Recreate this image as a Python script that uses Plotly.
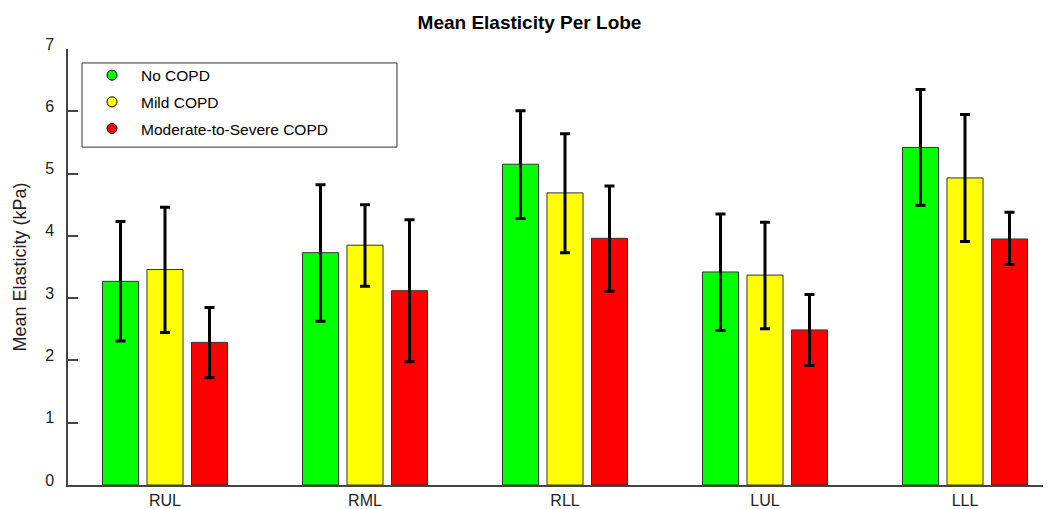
import plotly.graph_objects as go

lobes = ["RUL", "RML", "RLL", "LUL", "LLL"]
series_names = ["No COPD", "Mild COPD", "Moderate-to-Severe COPD"]
no_copd = [3.27, 3.73, 5.15, 3.42, 5.42]
no_copd_lo = [2.31, 2.63, 4.28, 2.48, 4.49]
no_copd_hi = [4.23, 4.82, 6.01, 4.35, 6.35]
mild_copd = [3.46, 3.85, 4.69, 3.37, 4.93]
mild_copd_lo = [2.45, 3.19, 3.73, 2.51, 3.91]
mild_copd_hi = [4.46, 4.50, 5.64, 4.22, 5.95]
severe_copd = [2.29, 3.12, 3.96, 2.49, 3.95]
severe_copd_lo = [1.72, 1.98, 3.11, 1.92, 3.54]
severe_copd_hi = [2.85, 4.26, 4.80, 3.06, 4.38]
colors = ["#00ff00", "#ffff00", "#ff0000"]

FONT = "Liberation Sans, Arial, sans-serif"
fig = go.Figure()
groups = [
    (no_copd, no_copd_lo, no_copd_hi),
    (mild_copd, mild_copd_lo, mild_copd_hi),
    (severe_copd, severe_copd_lo, severe_copd_hi),
]
for name, col, (vals, lo, hi) in zip(series_names, colors, groups):
    fig.add_trace(go.Bar(
        x=lobes, y=vals, name=name, showlegend=False,
        marker=dict(color=col, line=dict(color="#333333", width=1)),
        error_y=dict(type="data", symmetric=False,
                     array=[h - v for h, v in zip(hi, vals)],
                     arrayminus=[v - l for l, v in zip(lo, vals)],
                     color="black", thickness=3, width=5),
    ))
for i, (name, col) in enumerate(zip(series_names, colors)):
    fig.add_trace(go.Scatter(
        x=[None], y=[None], mode="markers", name=name,
        legendgroup="g%d" % i,
        marker=dict(symbol="circle", size=10, color=col,
                    line=dict(color="black", width=1)),
    ))

# legend frame (wider than plotly's auto-sized legend box)
fig.add_shape(type="rect", xref="paper", yref="paper",
              x0=0.0143, x1=0.3357, y0=0.775, y1=0.968,
              line=dict(color="#333333", width=1), fillcolor="white", layer="above")

fig.update_layout(
    width=1043, height=501,
    paper_bgcolor="white", plot_bgcolor="white",
    margin=dict(l=60, r=3, t=41, b=24),
    barmode="group", bargap=0.3325, bargroupgap=0.19,
    title=dict(text="<b>Mean Elasticity Per Lobe</b>", x=0.5, xanchor="center",
               y=0.972, yanchor="middle",
               font=dict(family=FONT, size=19, color="black")),
    font=dict(family=FONT, color="#222222"),
    showlegend=True,
    legend=dict(x=0.0153, y=0.978, xanchor="left", yanchor="top",
                bgcolor="rgba(0,0,0,0)", borderwidth=0,
                font=dict(family=FONT, size=15.5, color="black"),
                tracegroupgap=3.5, itemwidth=48),
    xaxis=dict(range=[-0.485, 4.415], showline=True, linecolor="#444444", linewidth=1.5,
               ticks="", showgrid=False, zeroline=False, ticklabelstandoff=0,
               tickfont=dict(family=FONT, size=16, color="#222222"), automargin=False),
    yaxis=dict(range=[0, 7], dtick=1, showline=True, linecolor="#444444", linewidth=1.5,
               ticks="inside", ticklen=10, tickcolor="#444444", tickwidth=1.5,
               showgrid=False, zeroline=False, ticklabelstandoff=9, ticklabelshift=-5,
               tickfont=dict(family=FONT, size=16, color="#222222"),
               title=dict(text="Mean Elasticity (kPa)", standoff=14,
                          font=dict(family=FONT, size=18, color="#222222")),
               automargin=False),
)
fig.write_html("out.html")
